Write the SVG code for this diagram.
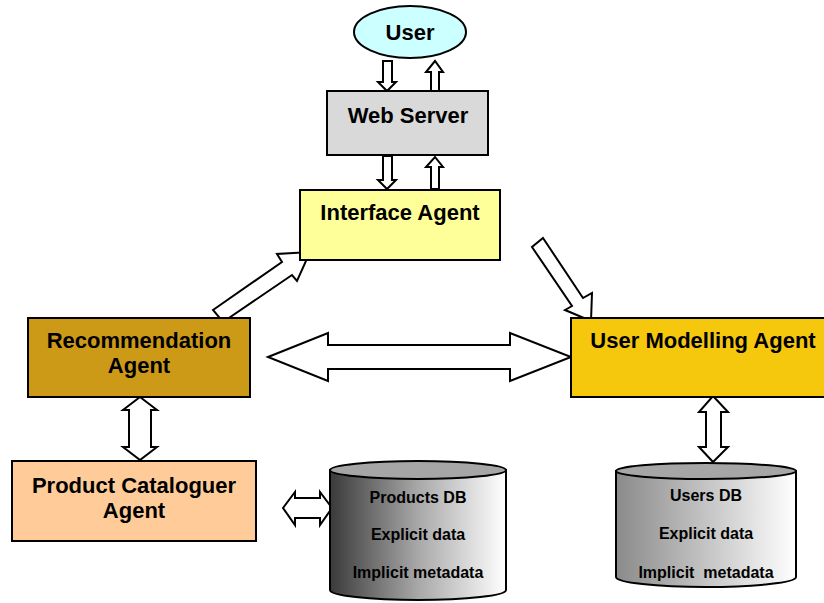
<svg xmlns="http://www.w3.org/2000/svg" width="824" height="603" viewBox="0 0 824 603">
  <style>
    .box { stroke: #000; stroke-width: 2; }
    .arrow { fill: #fff; stroke: #000; stroke-width: 2; stroke-linejoin: miter; }
    .lbl { font-family: "Liberation Sans", Arial, sans-serif; font-weight: bold; fill: #000; text-anchor: middle; }
    .big { font-size: 22px; }
    .db { font-size: 16px; white-space: pre; }
  </style>
  <defs>
    <linearGradient id="prodGrad" x1="0" y1="0" x2="1" y2="0">
      <stop offset="0" stop-color="#3a3a3a"/>
      <stop offset="0.5" stop-color="#a8a8a8"/>
      <stop offset="1" stop-color="#ffffff"/>
    </linearGradient>
    <linearGradient id="userGrad" x1="0" y1="0" x2="1" y2="0">
      <stop offset="0" stop-color="#8a8a8a"/>
      <stop offset="0.5" stop-color="#c4c4c4"/>
      <stop offset="1" stop-color="#ffffff"/>
    </linearGradient>
  </defs>
  <rect width="824" height="603" fill="#fff"/>

  <g id="connectors">
    <!-- User <-> Web Server -->
    <polygon class="arrow" points="383,61 392,61 392,82 396,82 387,91 378,82 383,82"/>
    <polygon class="arrow" points="431,91 431,72 426,72 435,61 443,72 439,72 439,91"/>
    <!-- Web Server <-> Interface Agent -->
    <polygon class="arrow" points="383,156 392,156 392,180 396,180 387,189 378,180 383,180"/>
    <polygon class="arrow" points="431,189 431,167 426,167 435,157 443,167 439,167 439,189"/>
    <!-- Recommendation -> Interface -->
    <polygon class="arrow" points="213,310 282,262 277,254 310,252 297,281 292,275 223,322"/>
    <!-- Interface -> User Modelling -->
    <polygon class="arrow" points="543,238 583,298 592,293 591,321 565,310 572,306 532,247"/>
    <!-- Recommendation <-> User Modelling -->
    <polygon class="arrow" points="268,357 328,333 328,345 510,345 510,333 571,357 510,381 510,369 328,369 328,381"/>
    <!-- Recommendation <-> Product Cataloguer -->
    <polygon class="arrow" points="140,397 157,410 151,410 151,447 157,447 140,460 123,447 129,447 129,410 123,410"/>
    <!-- User Modelling <-> Users DB -->
    <polygon class="arrow" points="713,396 728,412 721,412 721,447 728,447 713,462 699,447 706,447 706,412 699,412"/>
    <!-- Product Cataloguer <-> Products DB -->
    <polygon class="arrow" points="283,508 295,492 295,498 320,498 320,492 332,508 320,525 320,518 295,518 295,525"/>
  </g>

  <g id="user">
    <ellipse cx="410" cy="32" rx="56" ry="26" fill="#ccffff" class="box"/>
    <text class="lbl big" x="410" y="40">User</text>
  </g>

  <g id="web-server">
    <rect x="327" y="91" width="161" height="64" fill="#d9d9d9" class="box"/>
    <text class="lbl big" x="408" y="123">Web Server</text>
  </g>

  <g id="interface-agent">
    <rect x="300" y="190" width="200" height="70" fill="#ffff99" class="box"/>
    <text class="lbl big" x="400" y="220">Interface Agent</text>
  </g>

  <g id="recommendation-agent">
    <rect x="28" y="318" width="222" height="79" fill="#cc9a16" class="box"/>
    <text class="lbl big" x="139" y="348">Recommendation</text>
    <text class="lbl big" x="139" y="373">Agent</text>
  </g>

  <g id="user-modelling-agent">
    <rect x="571" y="318" width="260" height="79" fill="#f5c80e" class="box"/>
    <text class="lbl big" x="703" y="348">User Modelling Agent</text>
  </g>

  <g id="product-cataloguer-agent">
    <rect x="12" y="461" width="244" height="80" fill="#ffcc99" class="box"/>
    <text class="lbl big" x="134" y="493">Product Cataloguer</text>
    <text class="lbl big" x="134" y="518">Agent</text>
  </g>

  <g id="products-db">
    <path d="M330,470 L330,590 A88,10 0 0 0 506,590 L506,470 Z" fill="url(#prodGrad)" class="box"/>
    <ellipse cx="418" cy="470" rx="88" ry="9" fill="#a6a6a6" class="box"/>
    <text class="lbl db" x="418" y="503">Products DB</text>
    <text class="lbl db" x="418" y="540">Explicit data</text>
    <text class="lbl db" x="418" y="578">Implicit metadata</text>
  </g>

  <g id="users-db">
    <path d="M616,471 L616,577 A90,10 0 0 0 796,577 L796,471 Z" fill="url(#userGrad)" class="box"/>
    <ellipse cx="706" cy="471" rx="90" ry="8" fill="#a6a6a6" class="box"/>
    <text class="lbl db" x="706" y="501">Users DB</text>
    <text class="lbl db" x="706" y="539">Explicit data</text>
    <text class="lbl db" x="706" y="578">Implicit  metadata</text>
  </g>
</svg>
